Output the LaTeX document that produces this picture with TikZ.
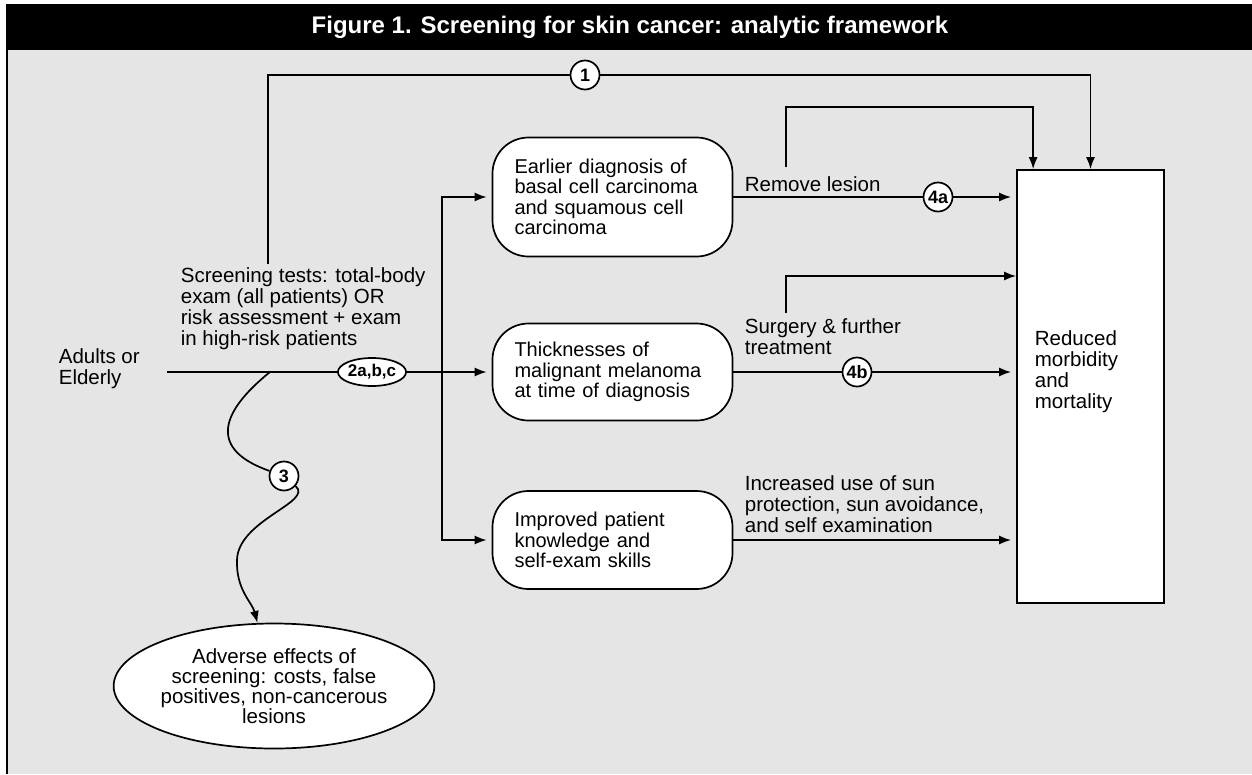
\documentclass[tikz,border=0pt]{standalone}
\usepackage{fontspec}
\setmainfont{Liberation Sans}
\usetikzlibrary{positioning}
\usetikzlibrary{calc}
\usetikzlibrary{shapes.geometric}
\usetikzlibrary{arrows.meta}
\definecolor{panel}{HTML}{E5E5E5}

\begin{document}
\begin{tikzpicture}[x=1pt, y=-1pt, line width=1.7pt, >={Latex[length=12pt,width=9pt]},
        txt/.style={inner sep=0pt, align=left, font=\fontsize{20.5}{21}\selectfont},
        outcome/.style={draw, fill=white, rounded corners=36pt, text width=196pt,
            inner xsep=22pt, inner ysep=0pt, align=left, font=\fontsize{20}{20.5}\selectfont},
        kq/.style={circle, draw, fill=white, minimum size=29pt, inner sep=0pt,
            font=\fontsize{18}{18}\selectfont\bfseries},
        arr/.style={->, shorten >=5pt}]
    \useasboundingbox (0,0) rectangle (1252,774);
    % frame and title bar
    \fill[white] (0,0) rectangle (1252,774);
    \fill[panel] (7,50) rectangle (1252,774);
    \fill[black] (7,4) rectangle (1252,50);
    \draw[line width=1.3pt] (7,4) -- (7,774);
    \node (title) [text=white, font=\fontsize{24}{24}\selectfont\bfseries] at (630,27)
        {Figure 1. Screening for skin cancer: analytic framework};

    \node [txt, anchor=west] (pop) at (58,369) {Adults or\\Elderly};
    \node [txt, anchor=west] (screen) at (180,309)
        {Screening tests: total-body\\exam (all patients) OR\\risk assessment + exam\\in high-risk patients};

    \node [outcome, minimum height=119pt] (early) at (612.5,197)
        {Earlier diagnosis of\\basal cell carcinoma\\and squamous cell\\carcinoma};
    \node [outcome, minimum height=97pt] (thick) at (612.5,372)
        {Thicknesses of\\malignant melanoma\\at time of diagnosis};
    \node [outcome, minimum height=98pt] (know) at (612.5,540)
        {Improved patient\\knowledge and\\self-exam skills};

    \node [draw, fill=white, minimum width=147pt, minimum height=433pt] (health) at (1090.5,386.5) {};
    \node [txt, anchor=west] (healthtxt) at (1034,371.5) {Reduced\\morbidity\\and\\mortality};

    \node [ellipse, draw, fill=white, minimum width=278pt, minimum height=125pt, inner sep=0pt,
        align=center, font=\fontsize{20.5}{20}\selectfont] (harm) at (274,686)
        {Adverse effects of\\screening: costs, false\\positives, non-cancerous\\lesions};

    \node [txt, anchor=base west] (remove) at (744,191) {Remove lesion};
    \node [txt, anchor=west] (surgery) at (744,337) {Surgery \& further\\treatment};
    \node [txt, anchor=west] (sun) at (744,504)
        {Increased use of sun\\protection, sun avoidance,\\and self examination};

    \node [ellipse, draw, fill=white, minimum width=64pt, minimum height=28pt, inner sep=0pt,
        font=\fontsize{17}{17}\selectfont\bfseries] (kq2) at (372,372) {2a,b,c};
    \node [kq] (kq1) at (585,75) {1};
    \node [kq] (kq3) at (284,476) {3};
    \node [kq] (kq4a) at (938,197) {4a};
    \node [kq] (kq4b) at (857,372) {4b};

    \coordinate (src) at (167,372);
    \coordinate (fork) at (442,372);
    \coordinate (split) at (270,372);
    \coordinate (up1) at (268,264);
    \coordinate (upa) at (786,167);
    \coordinate (upb) at (786,313);

    % overarching arrow 1
    \draw (up1) |- (kq1);
    \draw [->] (kq1) -| (health.north);

    % screening and intermediate outcomes
    \draw (src) -- (kq2);
    \draw [arr] (kq2) -- (thick);
    \draw [arr] (fork) |- (early);
    \draw [arr] (fork) |- (know);

    % harms
    \draw (split) .. controls (218,414) and (210,450) .. (kq3);
    \draw [->] (kq3) .. controls (314,502) and (238,520) .. (237,560)
        .. controls (236,590) and (252,602) .. (harm);

    % treatment to health outcomes
    \draw (early) -- (kq4a);
    \draw [arr] (kq4a) -- (kq4a -| health.west);
    \draw [->] (upa) -- ++(0,-60) -| ([xshift=17pt]health.north west);
    \draw [->] (upb) -- ++(0,-37) -- (health.west |- 0,276);
    \draw (thick) -- (kq4b);
    \draw [arr] (kq4b) -- (kq4b -| health.west);
    \draw [arr] (know) -- (know -| health.west);
\end{tikzpicture}
\end{document}
